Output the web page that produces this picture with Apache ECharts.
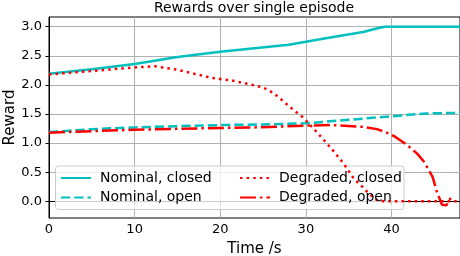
<!DOCTYPE html>
<html>
<head>
<meta charset="utf-8">
<script src="https://cdn.jsdelivr.net/npm/echarts@6/dist/echarts.min.js"></script>
<style>
html,body{margin:0;padding:0;background:#fff;}
#chart{width:460px;height:256px;}
</style>
</head>
<body>
<div id="chart"></div>
<script>
// ---- data ----
var titleText = 'Rewards over single episode';
var xAxisName = 'Time /s';
var yAxisName = 'Reward';
var xTicks = [0, 10, 20, 30, 40];
var yTicks = [0, 0.5, 1.0, 1.5, 2.0, 2.5, 3.0];

var seriesNames = ['Nominal, closed', 'Nominal, open', 'Degraded, closed', 'Degraded, open'];

var nominalClosedT = [0, 5, 10, 15, 20, 24, 28, 30, 33, 36.7, 38, 39.2, 48];
var nominalClosedV = [2.19, 2.27, 2.36, 2.48, 2.57, 2.63, 2.69, 2.74, 2.82, 2.91, 2.96, 3.0, 3.0];

var nominalOpenT = [0, 5, 10, 15, 20, 25, 30, 35, 40, 44, 48];
var nominalOpenV = [1.19, 1.24, 1.27, 1.29, 1.31, 1.32, 1.34, 1.40, 1.46, 1.51, 1.52];

var degradedClosedT = [0, 5, 10, 12.4, 15, 19, 21.2, 23.5, 25.1, 26.2, 27.2, 28.8, 29.6, 30.9, 32.3, 33.3, 34.4, 35.6, 36.6, 37.3, 38.3, 39, 48];
var degradedClosedV = [2.18, 2.24, 2.30, 2.32, 2.26, 2.12, 2.08, 2.01, 1.95, 1.86, 1.74, 1.54, 1.45, 1.25, 1.02, 0.85, 0.65, 0.39, 0.25, 0.14, 0.02, 0.0, 0.0];

var degradedOpenT = [0, 10, 20, 24, 30, 33, 36.7, 38.3, 39.3, 40.3, 41.8, 43, 43.8, 44.8, 45.3, 45.9, 46.4, 47.0];
var degradedOpenV = [1.18, 1.23, 1.26, 1.27, 1.30, 1.31, 1.28, 1.24, 1.19, 1.12, 0.97, 0.82, 0.68, 0.42, 0.16, -0.06, -0.07, 0.08];

// ---- build chart ----
function pairs(t, v) { return t.map(function (x, i) { return [x, v[i]]; }); }

var FONT = 'DejaVu Sans';
var CYAN = '#00bfbf';
var RED = '#ff0000';
var LW = 2.5;

var chart = echarts.init(document.getElementById('chart'), null, {renderer: 'canvas'});

var legendCommon = {
  orient: 'vertical', top: 171, padding: 0,
  itemWidth: 30, itemHeight: 14, itemGap: 5.6,
  itemStyle: {color: 'rgba(0,0,0,0)', borderColor: 'rgba(0,0,0,0)', borderWidth: 0, opacity: 0},
  textStyle: {fontFamily: FONT, fontSize: 14, color: '#000', padding: [0, 0, 0, 4]}
};

var option = {
  animation: false,
  backgroundColor: '#ffffff',
  textStyle: {fontFamily: FONT},
  title: {
    text: titleText,
    left: 254,
    top: 1,
    padding: 0,
    textAlign: 'center',
    textStyle: {fontFamily: FONT, fontSize: 14, fontWeight: 'normal', color: '#000'}
  },
  grid: {
    left: 49, right: 0, top: 17, bottom: 38,
    show: true, borderColor: '#000', borderWidth: 1, backgroundColor: 'transparent',
    containLabel: false,
    outerBoundsMode: 'none'
  },
  xAxis: {
    type: 'value',
    min: 0, max: 48,
    name: xAxisName,
    nameLocation: 'middle',
    nameGap: 24,
    nameMoveOverlap: false,
    nameTextStyle: {fontFamily: FONT, fontSize: 15, color: '#000'},
    axisLine: {show: true, lineStyle: {color: '#000', width: 1}},
    axisTick: {show: true, length: 3.5, lineStyle: {color: '#000'}, customValues: xTicks},
    axisLabel: {show: true, fontFamily: FONT, fontSize: 13, color: '#000', margin: 5, customValues: xTicks},
    splitLine: {show: true, lineStyle: {color: '#b0b0b0', width: 1}}
  },
  yAxis: {
    type: 'value',
    min: -0.287, max: 3.167,
    name: yAxisName,
    nameLocation: 'middle',
    nameGap: 31,
    nameMoveOverlap: false,
    nameTextStyle: {fontFamily: FONT, fontSize: 15, color: '#000'},
    axisLine: {show: true, lineStyle: {color: '#000', width: 1}},
    axisTick: {show: true, length: 3.5, lineStyle: {color: '#000'}, customValues: yTicks},
    axisLabel: {show: true, fontFamily: FONT, fontSize: 13, color: '#000', margin: 7, customValues: yTicks,
      formatter: function (v) { return Number(v).toFixed(1); }},
    splitLine: {show: true, lineStyle: {color: '#b0b0b0', width: 1}}
  },
  legend: [
    Object.assign({}, legendCommon, {data: [seriesNames[0], seriesNames[1]], left: 60}),
    Object.assign({}, legendCommon, {data: [seriesNames[2], seriesNames[3]], left: 239})
  ],
  graphic: {
    elements: [{
      type: 'rect', z: 3, silent: true,
      shape: {x: 55.5, y: 166, width: 348.5, height: 43.5, r: 3},
      style: {fill: 'rgba(255,255,255,0.8)', stroke: '#cccccc', lineWidth: 1}
    }]
  },
  series: [
    {name: seriesNames[0], type: 'line', data: pairs(nominalClosedT, nominalClosedV), symbol: 'none',
      lineStyle: {color: CYAN, width: LW, type: 'solid'}, itemStyle: {color: CYAN}},
    {name: seriesNames[1], type: 'line', data: pairs(nominalOpenT, nominalOpenV), symbol: 'none',
      lineStyle: {color: CYAN, width: LW, type: [9.25, 4]}, itemStyle: {color: CYAN}},
    {name: seriesNames[2], type: 'line', data: pairs(degradedClosedT, degradedClosedV), symbol: 'none',
      lineStyle: {color: RED, width: LW, type: [2.5, 4.1]}, itemStyle: {color: RED}},
    {name: seriesNames[3], type: 'line', data: pairs(degradedOpenT, degradedOpenV), symbol: 'none',
      lineStyle: {color: RED, width: LW, type: [16, 4, 2.5, 4]}, itemStyle: {color: RED}}
  ]
};
chart.setOption(option);
</script>
</body>
</html>
